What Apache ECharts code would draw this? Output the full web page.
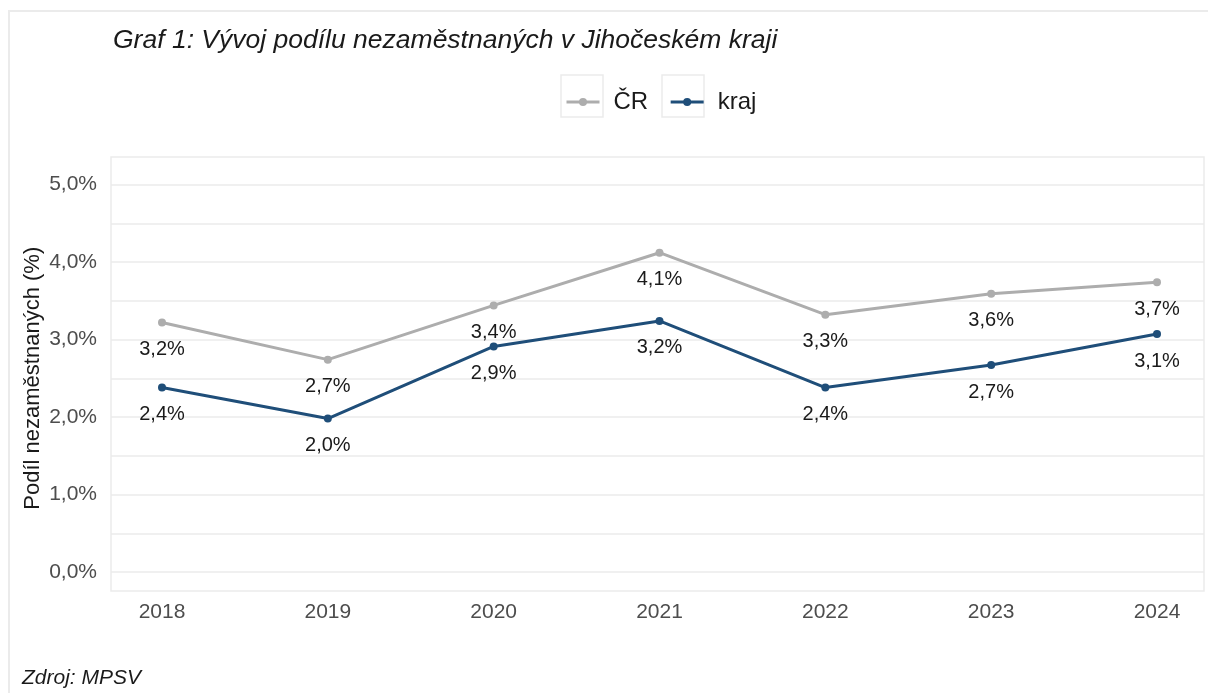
<!DOCTYPE html>
<html>
<head>
<meta charset="utf-8">
<script src="https://cdn.jsdelivr.net/npm/echarts@6/dist/echarts.min.js"></script>
<style>
html,body{margin:0;padding:0;background:#fff;}
#frame{position:absolute;left:8px;top:10px;width:1220px;height:700px;border:2px solid #ebebeb;box-sizing:border-box;}
#chart{position:absolute;left:0;top:0;width:1208px;height:693px;}
</style>
</head>
<body>
<div id="frame"></div>
<div id="chart"></div>
<script>
// data
var years = ['2018', '2019', '2020', '2021', '2022', '2023', '2024'];
var crValues = [3.22, 2.74, 3.44, 4.12, 3.32, 3.59, 3.74];
var krajValues = [2.38, 1.98, 2.91, 3.24, 2.38, 2.67, 3.07];
var yMin = 0, yMax = 5, yStep = 0.5;

var fontName = '"Liberation Sans", Arial, sans-serif';

function pct(v){
	return v.toFixed(1).replace('.', ',') + '%';
}

var chart = echarts.init(document.getElementById('chart'));
var option = {
	animation: false,
	textStyle: { fontFamily: fontName },
	title: [
		{
			text: 'Graf 1: Vývoj podílu nezaměstnaných v Jihočeském kraji',
			left: 108, top: 22,
			textStyle: { fontSize: 26.5, fontStyle: 'italic', fontWeight: 'normal', color: '#1a1a1a', fontFamily: fontName }
		},
		{
			text: 'Zdroj: MPSV',
			left: 17, top: 663,
			textStyle: { fontSize: 21, fontStyle: 'italic', fontWeight: 'normal', color: '#1a1a1a', fontFamily: fontName }
		}
	],
	legend: {
		left: 560, top: 85,
		itemWidth: 33, itemHeight: 10,
		itemGap: 21,
		lineStyle: { width: 3 },
		textStyle: { fontSize: 24, color: '#1a1a1a', padding: [0, 0, 0, 9] },
		data: ['ČR', 'kraj']
	},
	graphic: [
		{ type: 'rect', shape: { x: 561, y: 75, width: 42, height: 42 }, style: { fill: 'none', stroke: '#ebebeb', lineWidth: 1.5 }, silent: true },
		{ type: 'rect', shape: { x: 662, y: 75, width: 42, height: 42 }, style: { fill: 'none', stroke: '#ebebeb', lineWidth: 1.5 }, silent: true }
	],
	grid: [
		// panel outline
		{ left: 111, right: 4, top: 157, bottom: 102, show: true, borderColor: '#ebebeb', borderWidth: 1.5, backgroundColor: 'transparent' },
		// y scale 0..5
		{ left: 111, right: 4, top: 184.5, bottom: 121 },
		// data
		{ left: 162, right: 51, top: 184.5, bottom: 121 }
	],
	xAxis: [
		{ gridIndex: 0, type: 'value', show: false, min: 0, max: 1 },
		{ gridIndex: 1, type: 'value', show: false, min: 0, max: 1 },
		{
			gridIndex: 2, type: 'category', data: years, boundaryGap: false,
			axisLine: { show: false }, axisTick: { show: false },
			axisLabel: { color: '#4d4d4d', fontSize: 21, margin: 30 },
			splitLine: { show: false }
		}
	],
	yAxis: [
		{ gridIndex: 0, type: 'value', show: false, min: 0, max: 1 },
		{
			gridIndex: 1, type: 'value', min: yMin, max: yMax, interval: yStep,
			name: 'Podíl nezaměstnaných (%)',
			nameLocation: 'middle', nameGap: 67,
			nameMoveOverlap: false,
			nameTextStyle: { fontSize: 22, color: '#1a1a1a' },
			axisLine: { show: false }, axisTick: { show: false },
			axisLabel: {
				color: '#4d4d4d', fontSize: 21, margin: 14,
				formatter: function(v){
					return Math.abs(v - Math.round(v)) < 1e-6 ? pct(v) : '';
				}
			},
			splitLine: { show: true, lineStyle: { color: '#ebebeb', width: 1.5 } }
		},
		{ gridIndex: 2, type: 'value', show: false, min: yMin, max: yMax }
	],
	series: [
		{
			name: 'ČR', type: 'line',
			xAxisIndex: 2, yAxisIndex: 2,
			data: crValues,
			symbol: 'circle', symbolSize: 8,
			itemStyle: { color: '#adadad' },
			lineStyle: { color: '#adadad', width: 3 },
			label: { show: true, position: 'bottom', distance: 13, fontSize: 20, color: '#1a1a1a', formatter: function(p){ return pct(p.value); } }
		},
		{
			name: 'kraj', type: 'line',
			xAxisIndex: 2, yAxisIndex: 2,
			data: krajValues,
			symbol: 'circle', symbolSize: 8,
			itemStyle: { color: '#1f4e79' },
			lineStyle: { color: '#1f4e79', width: 3 },
			label: { show: true, position: 'bottom', distance: 13, fontSize: 20, color: '#1a1a1a', formatter: function(p){ return pct(p.value); } }
		}
	]
};
chart.setOption(option);
</script>
</body>
</html>
